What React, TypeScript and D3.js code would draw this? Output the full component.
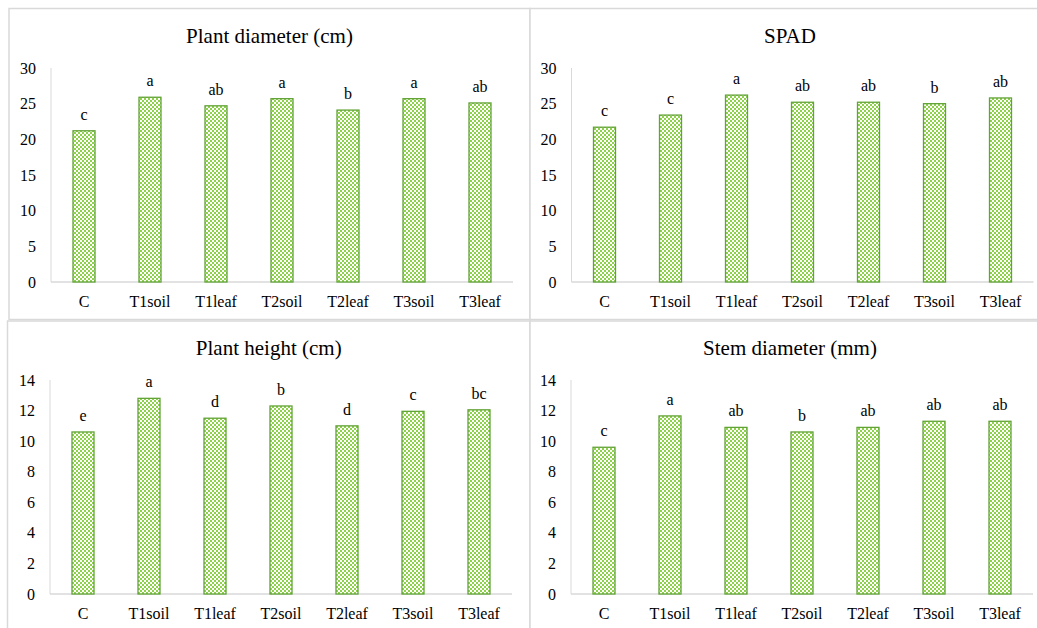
import React from "react";
import * as d3 from "d3";

const categories = ["C", "T1soil", "T1leaf", "T2soil", "T2leaf", "T3soil", "T3leaf"];

const plantDiameter = [21.2, 25.9, 24.7, 25.7, 24.1, 25.7, 25.1];
const plantDiameterLetters = ["c", "a", "ab", "a", "b", "a", "ab"];

const spad = [21.7, 23.4, 26.2, 25.2, 25.2, 25.0, 25.8];
const spadLetters = ["c", "c", "a", "ab", "ab", "b", "ab"];

const plantHeight = [10.6, 12.8, 11.5, 12.3, 11.0, 11.95, 12.05];
const plantHeightLetters = ["e", "a", "d", "b", "d", "c", "bc"];

const stemDiameter = [9.6, 11.65, 10.9, 10.6, 10.9, 11.3, 11.3];
const stemDiameterLetters = ["c", "a", "ab", "b", "ab", "ab", "ab"];

const ticks30 = [0, 5, 10, 15, 20, 25, 30];
const ticks14 = [0, 2, 4, 6, 8, 10, 12, 14];

const FONT = "Liberation Serif, Times New Roman, Times, serif";
const GRID = "#d9d9d9";
const txt = { fontFamily: FONT };

type PanelProps = {
  title: string;
  values: number[];
  letters: string[];
  ticks: number[];
  yMax: number;
  px: number;
  py: number;
  pw: number;
  ph: number;
  axisX: number;
  top: number;
  base: number;
};

function Panel(p: PanelProps) {
  const x = d3
    .scaleBand<string>()
    .domain(categories)
    .range([p.axisX, p.axisX + 462])
    .paddingInner(2 / 3)
    .paddingOuter(1 / 3);
  const y = d3.scaleLinear().domain([0, p.yMax]).range([p.base, p.top]);
  return (
    <g>
      <rect x={p.px} y={p.py} width={p.pw} height={p.ph} fill="white" stroke={GRID} strokeWidth={1.5} />
      <text x={p.px + p.pw / 2} y={p.py + 34} textAnchor="middle" style={txt} fontSize={21} fill="#000">
        {p.title}
      </text>
      <line x1={p.axisX} x2={p.axisX} y1={y(p.yMax)} y2={y(0)} stroke={GRID} strokeWidth={1} />
      <line x1={p.axisX} x2={p.axisX + 462} y1={y(0)} y2={y(0)} stroke={GRID} strokeWidth={1.5} />
      {p.ticks.map((t) => (
        <text key={t} x={p.axisX - 15} y={y(t)} dy="0.35em" textAnchor="end" style={txt} fontSize={16} fill="#000">
          {t}
        </text>
      ))}
      {categories.map((c, i) => (
        <g key={c}>
          <rect
            x={x(c)!}
            y={y(p.values[i])}
            width={x.bandwidth()}
            height={y(0) - y(p.values[i])}
            fill="url(#checker)"
            stroke="#62a336"
            strokeWidth={1.3}
          />
          <text x={x(c)! + x.bandwidth() / 2} y={y(p.values[i]) - 11} textAnchor="middle" style={txt} fontSize={16} fill="#000">
            {p.letters[i]}
          </text>
          <text x={x(c)! + x.bandwidth() / 2} y={y(0) + 25} textAnchor="middle" style={txt} fontSize={16} fill="#000">
            {c}
          </text>
        </g>
      ))}
    </g>
  );
}

export default function App() {
  return (
    <svg
      width={1037}
      height={628}
      style={{ position: "absolute", left: 0, top: 0, background: "white" }}
    >
      <defs>
        <pattern id="checker" width={4} height={4} patternUnits="userSpaceOnUse">
          <rect width={4} height={4} fill="#8ed14a" />
          <rect x={0} y={0} width={2} height={2} fill="#ffffff" />
          <rect x={2} y={2} width={2} height={2} fill="#ffffff" />
        </pattern>
      </defs>
      <rect width={1037} height={628} fill="white" />
      <Panel title="Plant diameter (cm)" values={plantDiameter} letters={plantDiameterLetters} ticks={ticks30} yMax={30}
        px={9} py={8.5} pw={521} ph={311} axisX={51} top={68} base={282} />
      <Panel title="SPAD" values={spad} letters={spadLetters} ticks={ticks30} yMax={30}
        px={530} py={8.5} pw={520} ph={311} axisX={571.5} top={68} base={282} />
      <Panel title="Plant height (cm)" values={plantHeight} letters={plantHeightLetters} ticks={ticks14} yMax={14}
        px={7.5} py={321} pw={522.5} ph={320} axisX={50} top={380} base={594} />
      <Panel title="Stem diameter (mm)" values={stemDiameter} letters={stemDiameterLetters} ticks={ticks14} yMax={14}
        px={530} py={321} pw={520} ph={320} axisX={571} top={380} base={594} />
    </svg>
  );
}
